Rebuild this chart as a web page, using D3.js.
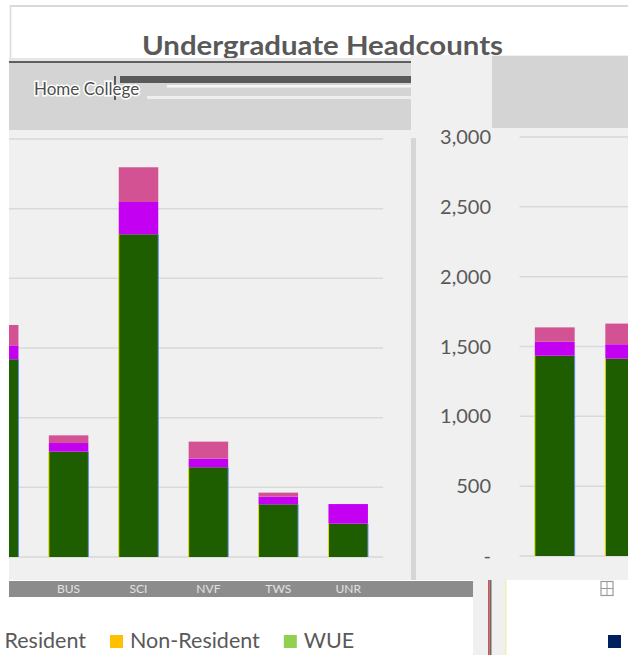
<!DOCTYPE html>
<html>
<head>
<meta charset="utf-8">
<script src="https://cdn.jsdelivr.net/npm/d3@7"></script>
<style>
  body { margin: 0; background: #fff; }
  svg { display: block; font-family: Lato, "Open Sans", sans-serif; }
</style>
</head>
<body>
<svg id="chart" width="628" height="655"></svg>
<script>
// headcounts by college (left chart)
const collegeNames = ["Ag", "BUS", "SCI", "NVF", "TWS", "UNR"];
const residentByCollege = [1419, 756, 2316, 644, 378, 239];
const wueByCollege = [100, 62, 232, 62, 55, 141];
const nonResidentByCollege = [146, 55, 249, 122, 29, 0];

// headcounts by term (right chart)
const termNames = ["Fall 2019", "Fall 2020"];
const residentByTerm = [1434, 1413];
const wueByTerm = [100, 103];
const nonResidentByTerm = [103, 148];

const yTicks = [0, 500, 1000, 1500, 2000, 2500, 3000];
const legendNames = ["Resident", "Non-Resident", "WUE"];

const seriesKeys = ["resident", "wue", "nonResident"];
const barColors = {resident: "#1f5e00", wue: "#c400f2", nonResident: "#d25293"};
const legendColors = ["#002060", "#ffc000", "#92d050"];
const textGray = "#595959";

const svg = d3.select("#chart");

const collegeRows = collegeNames.map((name, i) => ({
  name: name,
  resident: residentByCollege[i],
  wue: wueByCollege[i],
  nonResident: nonResidentByCollege[i]
}));
const termRows = termNames.map((name, i) => ({
  name: name,
  resident: residentByTerm[i],
  wue: wueByTerm[i],
  nonResident: nonResidentByTerm[i]
}));
const stack = d3.stack().keys(seriesKeys);

// outer frame + title
svg.append("line")
  .attr("x1", 10).attr("x2", 628).attr("y1", 6).attr("y2", 6)
  .attr("stroke", "#d9d9d9").attr("stroke-width", 2);
svg.append("line")
  .attr("x1", 10.5).attr("x2", 10.5).attr("y1", 5).attr("y2", 58)
  .attr("stroke", "#d9d9d9").attr("stroke-width", 1.5);

svg.append("text")
  .attr("x", 142).attr("y", 55)
  .attr("font-size", 26).attr("font-weight", 700)
  .attr("fill", textGray)
  .attr("textLength", 361).attr("lengthAdjust", "spacingAndGlyphs")
  .text("Undergraduate Headcounts");

// left panel with slicer header
svg.append("rect").attr("x", 9).attr("y", 58).attr("width", 402).attr("height", 522).attr("fill", "#f0f0f0");
svg.append("rect").attr("x", 9).attr("y", 58).attr("width", 402).attr("height", 3).attr("fill", "#e6e6e6");
svg.append("rect").attr("x", 9).attr("y", 61).attr("width", 402).attr("height", 2).attr("fill", "#5f5f5f");
svg.append("rect").attr("x", 9).attr("y", 63).attr("width", 402).attr("height", 67).attr("fill", "#d4d4d4");
svg.append("rect").attr("x", 120).attr("y", 76).attr("width", 291).attr("height", 7).attr("fill", textGray);
svg.append("rect").attr("x", 167).attr("y", 85).attr("width", 244).attr("height", 2.5).attr("fill", "#f6f6f6");
svg.append("rect").attr("x", 147).attr("y", 96).attr("width", 264).attr("height", 3).attr("fill", "#eeeeee");
svg.append("rect").attr("x", 114).attr("y", 76).attr("width", 2).attr("height", 24).attr("fill", textGray);
svg.append("text")
  .attr("x", 34).attr("y", 95)
  .attr("font-size", 17)
  .attr("fill", "#4d4d4d")
  .attr("stroke", "#ffffff").attr("stroke-width", 3).attr("paint-order", "stroke")
  .text("Home  College");

// right panel
svg.append("rect").attr("x", 411).attr("y", 55).attr("width", 217).attr("height", 525).attr("fill", "#f0f0f0");
svg.append("rect").attr("x", 492).attr("y", 56).attr("width", 136).attr("height", 72).attr("fill", "#d4d4d4");
svg.append("rect").attr("x", 411).attr("y", 138).attr("width", 5).attr("height", 442).attr("fill", "#d6d6d8");

// scales
const xLeft = d3.scaleBand()
  .domain(collegeNames)
  .range([-36.25, 383.15])
  .paddingInner(0.435).paddingOuter(0.2175);
const yLeft = d3.scaleLinear().domain([0, 3000]).range([557, 139]);

const xRight = d3.scaleBand()
  .domain(termNames)
  .range([519.5, 660.5])
  .paddingInner(0.435).paddingOuter(0.2175);
const yRight = d3.scaleLinear().domain([0, 3000]).range([556, 137]);

// clip path for the left panel
const defs = svg.append("defs");
defs.append("clipPath").attr("id", "clipLeft")
  .append("rect").attr("x", 9).attr("y", 0).attr("width", 402).attr("height", 655);

// left chart
const left = svg.append("g").attr("clip-path", "url(#clipLeft)");
left.selectAll(".grid")
  .data(yTicks)
  .join("line")
  .attr("class", "grid")
  .attr("x1", 9).attr("x2", xLeft.range()[1])
  .attr("y1", d => yLeft(d)).attr("y2", d => yLeft(d))
  .attr("stroke", "#d9d9d9").attr("stroke-width", 1.5);

const leftLayers = stack(collegeRows);
leftLayers.forEach(layer => {
  left.selectAll(".bar-" + layer.key)
    .data(layer)
    .join("rect")
    .attr("class", "bar-" + layer.key)
    .attr("x", d => xLeft(d.data.name))
    .attr("width", xLeft.bandwidth())
    .attr("y", d => yLeft(d[1]))
    .attr("height", d => yLeft(d[0]) - yLeft(d[1]))
    .attr("fill", barColors[layer.key]);
});
// cleartype-like edge fringes on the green part
left.selectAll(".fringeL")
  .data(collegeRows)
  .join("rect")
  .attr("x", d => xLeft(d.name) - 0.5).attr("width", 1)
  .attr("y", d => yLeft(d.resident)).attr("height", d => yLeft(0) - yLeft(d.resident))
  .attr("fill", "#e8e000");
left.selectAll(".fringeR")
  .data(collegeRows)
  .join("rect")
  .attr("x", d => xLeft(d.name) + xLeft.bandwidth() - 0.5).attr("width", 1)
  .attr("y", d => yLeft(d.resident)).attr("height", d => yLeft(0) - yLeft(d.resident))
  .attr("fill", "#5b8fe8");

// right chart
const right = svg.append("g");
right.selectAll(".grid")
  .data(yTicks)
  .join("line")
  .attr("class", "grid")
  .attr("x1", xRight.range()[0]).attr("x2", 628)
  .attr("y1", d => yRight(d)).attr("y2", d => yRight(d))
  .attr("stroke", "#d9d9d9").attr("stroke-width", 1.5);

const rightLayers = stack(termRows);
rightLayers.forEach(layer => {
  right.selectAll(".bar-" + layer.key)
    .data(layer)
    .join("rect")
    .attr("class", "bar-" + layer.key)
    .attr("x", d => xRight(d.data.name))
    .attr("width", xRight.bandwidth())
    .attr("y", d => yRight(d[1]))
    .attr("height", d => yRight(d[0]) - yRight(d[1]))
    .attr("fill", barColors[layer.key]);
});
right.selectAll(".fringeL")
  .data(termRows)
  .join("rect")
  .attr("x", d => xRight(d.name) - 0.5).attr("width", 1)
  .attr("y", d => yRight(d.resident)).attr("height", d => yRight(0) - yRight(d.resident))
  .attr("fill", "#e8e000");
right.selectAll(".fringeR")
  .data(termRows)
  .join("rect")
  .attr("x", d => xRight(d.name) + xRight.bandwidth() - 0.5).attr("width", 1)
  .attr("y", d => yRight(d.resident)).attr("height", d => yRight(0) - yRight(d.resident))
  .attr("fill", "#5b8fe8");

const fmt = d3.format(",");
right.selectAll(".ylab")
  .data(yTicks)
  .join("text")
  .attr("class", "ylab")
  .attr("x", 491).attr("y", d => yRight(d) + 7)
  .attr("text-anchor", "end")
  .attr("font-size", 20)
  .attr("fill", textGray)
  .text(d => d === 0 ? "-" : fmt(d));

// category strip under the left chart (only labels whose centre is inside the panel)
svg.append("rect").attr("x", 9).attr("y", 581).attr("width", 464).attr("height", 16).attr("fill", "#8c8c8c");
svg.append("g")
  .selectAll("text")
  .data(collegeNames.filter(d => xLeft(d) + xLeft.bandwidth() / 2 > 30))
  .join("text")
  .attr("x", d => xLeft(d) + xLeft.bandwidth() / 2)
  .attr("y", 593)
  .attr("text-anchor", "middle")
  .attr("font-size", 12)
  .attr("fill", "#e2e2e2")
  .text(d => d);

// lower right area
svg.append("rect").attr("x", 473).attr("y", 580).attr("width", 155).attr("height", 75).attr("fill", "#ffffff");
svg.append("rect").attr("x", 473).attr("y", 580).attr("width", 33).attr("height", 75).attr("fill", "#f0f0f0");
svg.append("rect").attr("x", 488).attr("y", 580).attr("width", 1.5).attr("height", 75).attr("fill", "#e24b4b");
svg.append("rect").attr("x", 489.5).attr("y", 580).attr("width", 2).attr("height", 75).attr("fill", "#6b6b6b");
svg.append("rect").attr("x", 505).attr("y", 580).attr("width", 1.5).attr("height", 75).attr("fill", "#f3eeb4");
svg.append("rect").attr("x", 601).attr("y", 581.5).attr("width", 12).attr("height", 14)
  .attr("fill", "none").attr("stroke", "#9a9a9a").attr("stroke-width", 1.2);
svg.append("line").attr("x1", 601).attr("x2", 613).attr("y1", 588.5).attr("y2", 588.5).attr("stroke", "#9a9a9a");
svg.append("line").attr("x1", 607).attr("x2", 607).attr("y1", 581.5).attr("y2", 595.5).attr("stroke", "#9a9a9a");

// legend under the left chart
const legend = svg.append("g");
const items = legend.selectAll("g")
  .data(legendNames)
  .join("g");
items.append("rect")
  .attr("y", 635).attr("width", 13).attr("height", 13)
  .attr("fill", (d, i) => legendColors[i]);
items.append("text")
  .attr("x", 20).attr("y", 648)
  .attr("font-size", 21.5)
  .attr("fill", textGray)
  .text(d => d);
const widths = items.select("text").nodes().map(n => n.getComputedTextLength());
const gap = 24;
const pos = [0, 110, 0];  // Non-Resident swatch sits at x = 110
pos[0] = pos[1] - gap - widths[0] - 20;
pos[2] = pos[1] + 20 + widths[1] + gap;
items.attr("transform", (d, i) => `translate(${pos[i]},0)`);

// right chart legend: only its first swatch is inside the picture
svg.append("rect")
  .datum(legendNames[0])
  .attr("x", 608).attr("y", 635).attr("width", 13).attr("height", 13)
  .attr("fill", legendColors[0]);
</script>
</body>
</html>
